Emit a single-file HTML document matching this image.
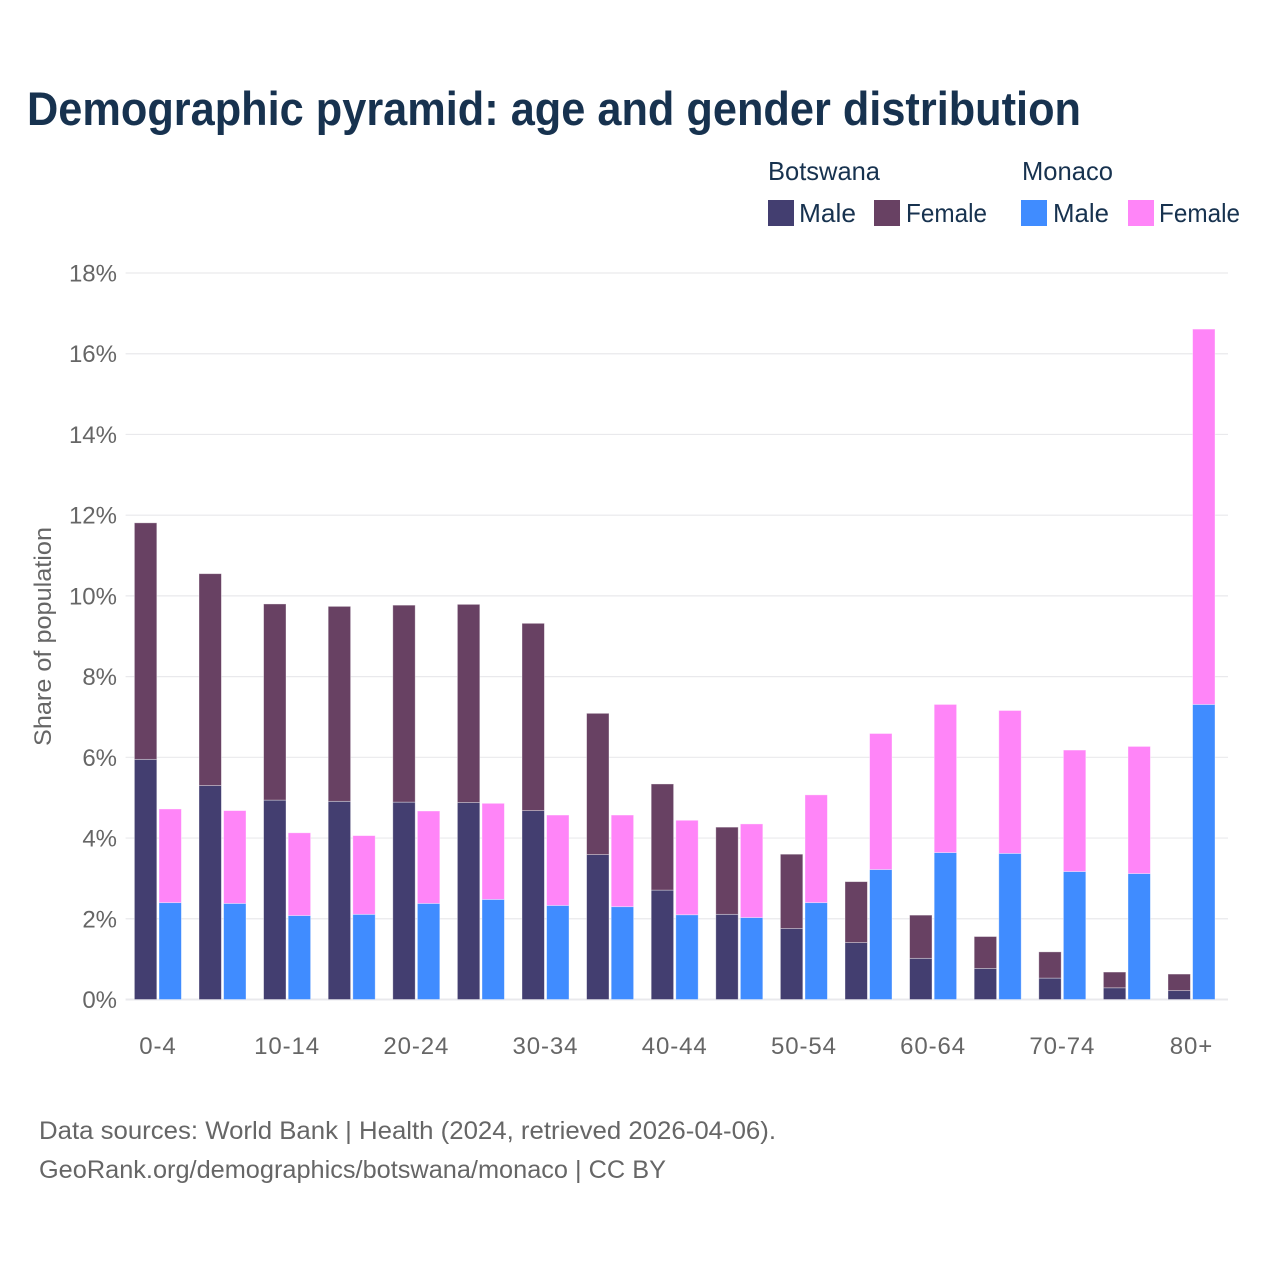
<!DOCTYPE html>
<html lang="en">
<head>
<meta charset="utf-8">
<title>Demographic pyramid</title>
<style>
html,body{margin:0;padding:0;background:#fff;}
svg{display:block;font-family:"Liberation Sans",sans-serif;}
</style>
</head>
<body>
<svg id="chart" xmlns="http://www.w3.org/2000/svg" width="1280" height="1280" viewBox="0 0 1280 1280">
  <rect width="1280" height="1280" fill="#fff"/>
  <text x="27" y="125" font-size="47" font-weight="700" fill="#17324f" textLength="1054" lengthAdjust="spacingAndGlyphs">Demographic pyramid: age and gender distribution</text>

  <g font-size="26" fill="#17324f">
    <text x="768" y="180" textLength="112" lengthAdjust="spacingAndGlyphs">Botswana</text>
    <text x="1022" y="180" textLength="91" lengthAdjust="spacingAndGlyphs">Monaco</text>
    <rect x="768" y="200" width="26" height="26" fill="#433e70"/>
    <text x="799" y="222" textLength="57" lengthAdjust="spacingAndGlyphs">Male</text>
    <rect x="874" y="200" width="26" height="26" fill="#684163"/>
    <text x="906" y="222" textLength="81" lengthAdjust="spacingAndGlyphs">Female</text>
    <rect x="1021" y="200" width="26" height="26" fill="#408cff"/>
    <text x="1053" y="222" textLength="56" lengthAdjust="spacingAndGlyphs">Male</text>
    <rect x="1128" y="200" width="26" height="26" fill="#ff85f8"/>
    <text x="1159" y="222" textLength="81" lengthAdjust="spacingAndGlyphs">Female</text>
  </g>

  <g id="grid"></g>
  <g id="y-ticks"></g>
  <g id="bars"></g>
  <g id="x-ticks"></g>

  <text transform="translate(51 636.5) rotate(-90)" text-anchor="middle" font-size="24" fill="#666666" textLength="219" lengthAdjust="spacingAndGlyphs">Share of population</text>

  <text x="39" y="1139" font-size="25" fill="#666666" textLength="737" lengthAdjust="spacingAndGlyphs">Data sources: World Bank | Health (2024, retrieved 2026-04-06).</text>
  <text x="39" y="1178" font-size="25" fill="#666666" textLength="627" lengthAdjust="spacingAndGlyphs">GeoRank.org/demographics/botswana/monaco | CC BY</text>
</svg>
<script>
const categories = ["0-4","5-9","10-14","15-19","20-24","25-29","30-34","35-39","40-44","45-49","50-54","55-59","60-64","65-69","70-74","75-79","80+"];
const botswanaMale = [5.95,5.30,4.94,4.91,4.89,4.88,4.68,3.59,2.71,2.11,1.76,1.41,1.02,0.77,0.53,0.29,0.22];
const botswanaFemale = [5.86,5.25,4.86,4.83,4.88,4.91,4.64,3.50,2.63,2.16,1.84,1.51,1.07,0.79,0.65,0.39,0.41];
const monacoMale = [2.40,2.38,2.08,2.11,2.38,2.48,2.33,2.30,2.10,2.03,2.40,3.22,3.64,3.62,3.17,3.12,7.31];
const monacoFemale = [2.32,2.30,2.05,1.95,2.29,2.38,2.24,2.27,2.34,2.32,2.67,3.37,3.67,3.54,3.01,3.15,9.30];
const yTicks = [0,2,4,6,8,10,12,14,16,18];
const xTickEvery = 2;

const NS = "http://www.w3.org/2000/svg";
const yBase = 999.5, yPerUnit = 726.5 / 18;
const xStart = 125.6, xStep = 64.6, barW = 22.4, barGap = 2.2, gridLeft = 125.6, gridRight = 1228;
const yScale = v => yBase - v * yPerUnit;
const xCenter = i => xStart + xStep * (i + 0.5);

const gridG = document.getElementById("grid");
const yTickG = document.getElementById("y-ticks");
const xTickG = document.getElementById("x-ticks");
const barsG = document.getElementById("bars");

yTicks.forEach(t => {
  const line = document.createElementNS(NS, "line");
  
  
  line.setAttribute("x1", gridLeft);
  line.setAttribute("x2", gridRight);
  line.setAttribute("y1", yScale(t));
  line.setAttribute("y2", yScale(t));
  line.setAttribute("stroke", "#e9e9ec");
  line.setAttribute("stroke-width", t === 0 ? 2 : 1.2);
  gridG.appendChild(line);

  const label = document.createElementNS(NS, "text");
  
  
  label.setAttribute("x", 117);
  label.setAttribute("y", yScale(t) + 8.5);
  label.setAttribute("text-anchor", "end");
  label.setAttribute("font-size", 24);
  label.setAttribute("fill", "#666666");
  label.textContent = t + "%";
  yTickG.appendChild(label);
});

function addBar(x, v0, v1, fill) {
  const r = document.createElementNS(NS, "rect");
  
  
  r.setAttribute("x", x);
  r.setAttribute("width", barW);
  r.setAttribute("y", yScale(v0 + v1));
  r.setAttribute("height", yScale(v0) - yScale(v0 + v1));
  r.setAttribute("fill", fill);
  r.setAttribute("stroke", "#ffffff");
  r.setAttribute("stroke-opacity", "0.45");
  r.setAttribute("stroke-width", "0.8");
  barsG.appendChild(r);
}

categories.forEach((c, i) => {
  const cx = xCenter(i);
  const xA = cx - barGap / 2 - barW;
  const xB = cx + barGap / 2;
  addBar(xA, 0, botswanaMale[i], "#433e70");
  addBar(xA, botswanaMale[i], botswanaFemale[i], "#684163");
  addBar(xB, 0, monacoMale[i], "#408cff");
  addBar(xB, monacoMale[i], monacoFemale[i], "#ff85f8");

  if (i % xTickEvery === 0) {
    const label = document.createElementNS(NS, "text");
    
    
    label.setAttribute("x", cx);
    label.setAttribute("y", 1054);
    label.setAttribute("text-anchor", "middle");
    label.setAttribute("font-size", 24);
    label.setAttribute("letter-spacing", "0.9");
    label.setAttribute("fill", "#666666");
    label.textContent = c;
    xTickG.appendChild(label);
  }
});
</script>
</body>
</html>
